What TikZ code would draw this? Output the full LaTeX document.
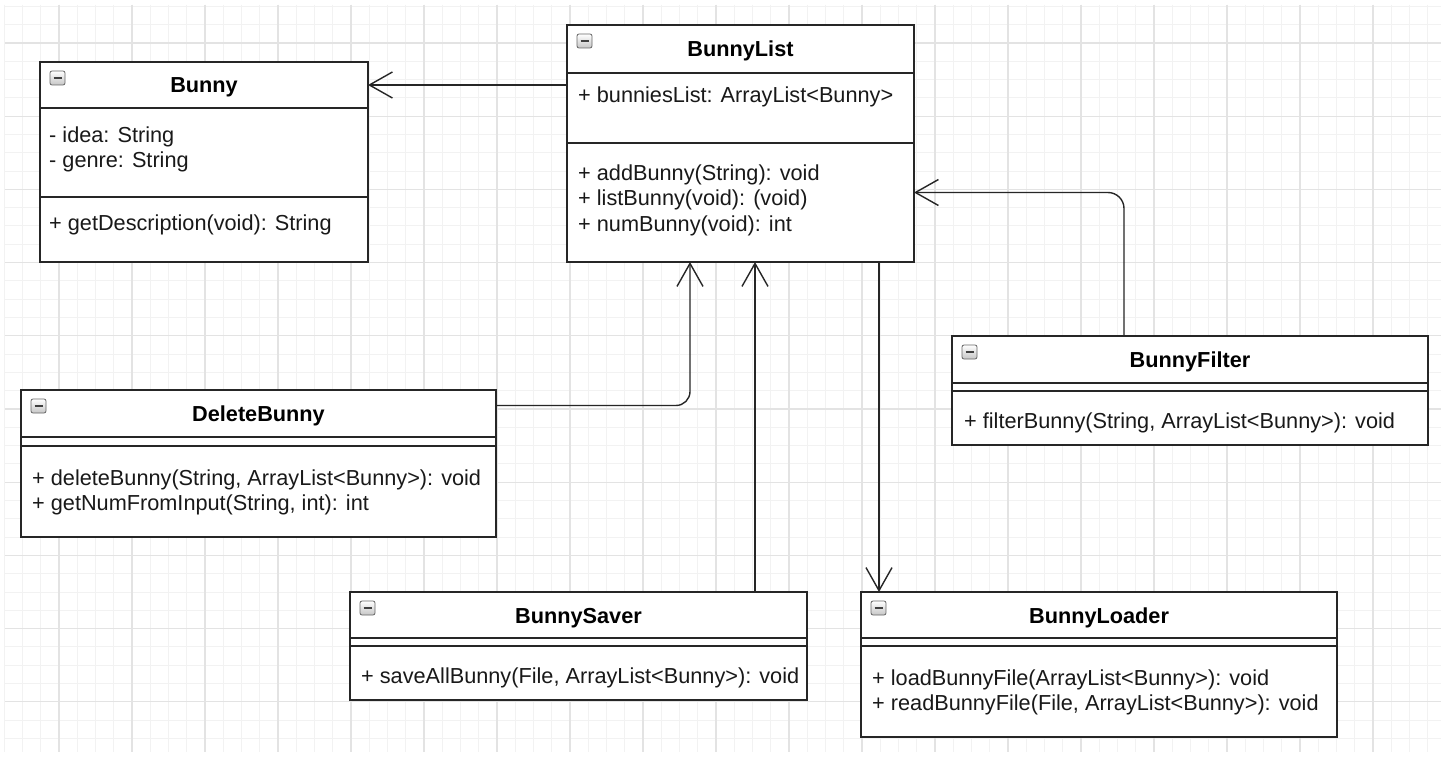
\documentclass[tikz,border=0pt]{standalone}
\usepackage{fontspec}
\setmainfont{Liberation Sans}
\usetikzlibrary{positioning,arrows.meta}

\tikzset{
  classpart/.style={draw=black!85, line width=1.3pt, fill=white, rectangle, inner sep=0pt, outer sep=0pt, anchor=north west},
  classtitle/.style={classpart, font=\fontsize{21.7}{25}\selectfont\bfseries, text height=20pt, text depth=4pt},
  member/.style={anchor=base west, inner sep=0pt, font=\fontsize{21.7}{25}\selectfont, text=black!90},
  assoc/.style={draw=black!85, line width=1.4pt, -{Straight Barb[length=23pt, width=26pt, line width=1.4pt]}},
  icon/.style={draw=gray!80!black, line width=0.8pt, rounded corners=2pt, top color=white, bottom color=gray!45},
  minorgrid/.style={draw=black!5, line width=1pt},
  majorgrid/.style={draw=black!11, line width=1.2pt},
}

\begin{document}
\begin{tikzpicture}[x=1pt, y=-1pt]
  \useasboundingbox (0,0) rectangle (1456,762);
  \fill[white] (0,0) rectangle (1456,762);

  % grid
  \foreach \i in {0,...,78}
    \draw[minorgrid] ({4.25+18.25*\i},5) -- ({4.25+18.25*\i},752);
  \foreach \i in {0,...,40}
    \draw[minorgrid] (5,{6.4+18.3*\i}) -- (1441,{6.4+18.3*\i});
  \foreach \i in {0,...,18}
    \draw[majorgrid] ({59+73*\i},5) -- ({59+73*\i},752);
  \foreach \i in {0,...,9}
    \draw[majorgrid] (5,{43+73.2*\i}) -- (1441,{43+73.2*\i});

  % Bunny
  \node[classtitle, minimum width=328pt, minimum height=46pt] (bunnyhead) at (40,62) {Bunny};
  \node[classpart, minimum width=328pt, minimum height=89pt, below=0pt of bunnyhead] (bunnyattr) {};
  \node[classpart, minimum width=328pt, minimum height=65pt, below=0pt of bunnyattr] (bunnymeth) {};
  \node[member] (bunnyA1) at (49,143) {- idea: String};
  \node[member] (bunnyA2) at (49,168) {- genre: String};
  \node[member] (bunnyM1) at (49,230) {+ getDescription(void): String};

  % BunnyList
  \node[classtitle, minimum width=347pt, minimum height=48pt] (listhead) at (567,25) {BunnyList};
  \node[classpart, minimum width=347pt, minimum height=70pt, below=0pt of listhead] (listattr) {};
  \node[classpart, minimum width=347pt, minimum height=119pt, below=0pt of listattr] (listmeth) {};
  \node[member] (listA1) at (578,103) {+ bunniesList: ArrayList<Bunny>};
  \node[member] (listM1) at (578,181) {+ addBunny(String): void};
  \node[member] (listM2) at (578,206) {+ listBunny(void): (void)};
  \node[member] (listM3) at (578,231) {+ numBunny(void): int};

  % DeleteBunny
  \node[classtitle, minimum width=475pt, minimum height=47pt] (delhead) at (21,390) {DeleteBunny};
  \node[classpart, minimum width=475pt, minimum height=9pt, below=0pt of delhead] (delattr) {};
  \node[classpart, minimum width=475pt, minimum height=91pt, below=0pt of delattr] (delmeth) {};
  \node[member] (delM1) at (32,485) {+ deleteBunny(String, ArrayList<Bunny>): void};
  \node[member] (delM2) at (32,510) {+ getNumFromInput(String, int): int};

  % BunnyFilter
  \node[classtitle, minimum width=476pt, minimum height=47pt] (filterhead) at (952,336) {BunnyFilter};
  \node[classpart, minimum width=476pt, minimum height=8pt, below=0pt of filterhead] (filterattr) {};
  \node[classpart, minimum width=476pt, minimum height=54pt, below=0pt of filterattr] (filtermeth) {};
  \node[member] (filterM1) at (964,428) {+ filterBunny(String, ArrayList<Bunny>): void};

  % BunnySaver
  \node[classtitle, minimum width=457pt, minimum height=46pt] (saverhead) at (350,592) {BunnySaver};
  \node[classpart, minimum width=457pt, minimum height=8pt, below=0pt of saverhead] (saverattr) {};
  \node[classpart, minimum width=457pt, minimum height=54pt, below=0pt of saverattr] (savermeth) {};
  \node[member] (saverM1) at (361,683) {+ saveAllBunny(File, ArrayList<Bunny>): void};

  % BunnyLoader
  \node[classtitle, minimum width=476pt, minimum height=46pt] (loaderhead) at (861,592) {BunnyLoader};
  \node[classpart, minimum width=476pt, minimum height=8pt, below=0pt of loaderhead] (loaderattr) {};
  \node[classpart, minimum width=476pt, minimum height=91pt, below=0pt of loaderattr] (loadermeth) {};
  \node[member] (loaderM1) at (872,685) {+ loadBunnyFile(ArrayList<Bunny>): void};
  \node[member] (loaderM2) at (872,710) {+ readBunnyFile(File, ArrayList<Bunny>): void};

  % collapse icons
  \foreach \h in {bunnyhead,listhead,delhead,filterhead,saverhead,loaderhead} {
    \draw[icon] ([xshift=10pt,yshift=-9pt]\h.north west) rectangle ++(15pt,-14pt);
    \draw[line width=1.6pt, black!75] ([xshift=13.5pt,yshift=-16pt]\h.north west) -- ++(8pt,0);
  }

  % associations
  \coordinate (saverTop) at ([xshift=405pt]saverhead.north west);
  \coordinate (loaderTop) at ([xshift=18pt]loaderhead.north west);
  \draw[assoc] (listattr.west |- bunnyhead.east) -- (bunnyhead.east);
  \draw[assoc, rounded corners=16pt] ([xshift=172pt]filterhead.north west) |- ([yshift=10pt]listmeth.east);
  \draw[assoc, rounded corners=14pt] ([yshift=8pt]delhead.east) -| ([xshift=123pt]listmeth.south west);
  \draw[assoc] (saverTop) -- (saverTop |- listmeth.south);
  \draw[assoc] (loaderTop |- listmeth.south) -- (loaderTop);
\end{tikzpicture}
\end{document}
